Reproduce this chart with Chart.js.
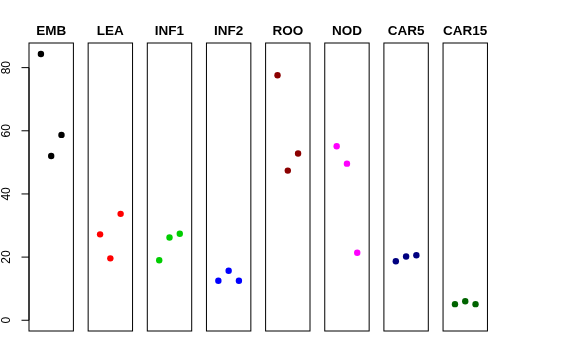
<!DOCTYPE html>
<html>
<head>
<meta charset="utf-8">
<script src="https://cdn.jsdelivr.net/npm/chart.js@4"></script>
<style>
  body { margin: 0; background: #fff; }
  #wrap { position: relative; width: 576px; height: 360px; }
  #wrap canvas { position: absolute; left: 0; top: 0; }
</style>
</head>
<body>
<div id="wrap"></div>
<script>
// panels, one per tissue
const tissues = ['EMB', 'LEA', 'INF1', 'INF2', 'ROO', 'NOD', 'CAR5', 'CAR15'];
const colors = ['#000000', '#ff0000', '#00cd00', '#0000ff', '#8b0000', '#ff00ff', '#000080', '#006400'];

// three replicates per tissue
const reps = [1, 2, 3];
const EMB = [84.3, 52.0, 58.7];
const LEA = [27.2, 19.6, 33.7];
const INF1 = [19.0, 26.2, 27.4];
const INF2 = [12.5, 15.7, 12.5];
const ROO = [77.6, 47.4, 52.8];
const NOD = [55.1, 49.6, 21.4];
const CAR5 = [18.7, 20.2, 20.6];
const CAR15 = [5.1, 6.0, 5.1];
const values = [EMB, LEA, INF1, INF2, ROO, NOD, CAR5, CAR15];

const yTicks = [0, 20, 40, 60, 80];

const W = 576, H = 360;
const panelLeft = 29, panelStep = 59.15, panelW = 44.4;
const panelTop = 43, panelBottom = 331;

// box round each panel
const frame = {
    id: 'frame',
    afterDatasetsDraw(chart) {
        const a = chart.chartArea;
        const c = chart.ctx;
        c.save();
        c.strokeStyle = '#000';
        c.lineWidth = 1;
        c.strokeRect(a.left, a.top, a.right - a.left, a.bottom - a.top);
        c.restore();
    }
};

// R style left axis, labels read bottom to top
const leftAxis = {
    id: 'leftAxis',
    afterDraw(chart) {
        const y = chart.scales.y;
        const x0 = chart.chartArea.left;
        const c = chart.ctx;
        c.save();
        c.strokeStyle = '#000';
        c.fillStyle = '#000';
        c.lineWidth = 1;
        c.beginPath();
        c.moveTo(x0, y.getPixelForValue(yTicks[0]));
        c.lineTo(x0, y.getPixelForValue(yTicks[yTicks.length - 1]));
        yTicks.forEach(v => {
            const py = y.getPixelForValue(v);
            c.moveTo(x0, py);
            c.lineTo(x0 - 7.5, py);
        });
        c.stroke();
        c.font = '12px "Liberation Sans", Arial, sans-serif';
        c.textAlign = 'center';
        c.textBaseline = 'middle';
        yTicks.forEach(v => {
            const py = y.getPixelForValue(v);
            c.save();
            c.translate(7, py);
            c.rotate(-Math.PI / 2);
            c.fillText(String(v), 0, 0);
            c.restore();
        });
        c.restore();
    }
};

const wrap = document.getElementById('wrap');

tissues.forEach((name, i) => {
    const cv = document.createElement('canvas');
    cv.width = W;
    cv.height = H;
    wrap.appendChild(cv);

    const left = panelLeft + i * panelStep;
    const pts = reps.map((r, k) => ({ x: r, y: values[i][k] }));

    new Chart(cv, {
        type: 'scatter',
        data: {
            datasets: [{
                label: name,
                data: pts,
                backgroundColor: colors[i],
                borderWidth: 0,
                pointRadius: 3.2,
                pointHoverRadius: 3.2
            }]
        },
        options: {
            responsive: false,
            animation: false,
            events: [],
            layout: {
                padding: { left: left, right: W - left - panelW, top: 0, bottom: H - panelBottom }
            },
            scales: {
                x: { display: false, min: -0.16, max: 4.16 },
                y: { display: false, min: -3.4, max: 87.8 }
            },
            plugins: {
                legend: { display: false },
                tooltip: { enabled: false },
                title: {
                    display: true,
                    text: name,
                    fullSize: false,
                    color: '#000',
                    font: { family: '"Liberation Sans", Arial, sans-serif', size: 13.5, weight: 'bold' },
                    padding: { top: 23.5, bottom: 3.3 }
                }
            }
        },
        plugins: i === 0 ? [frame, leftAxis] : [frame]
    });
});
</script>
</body>
</html>
